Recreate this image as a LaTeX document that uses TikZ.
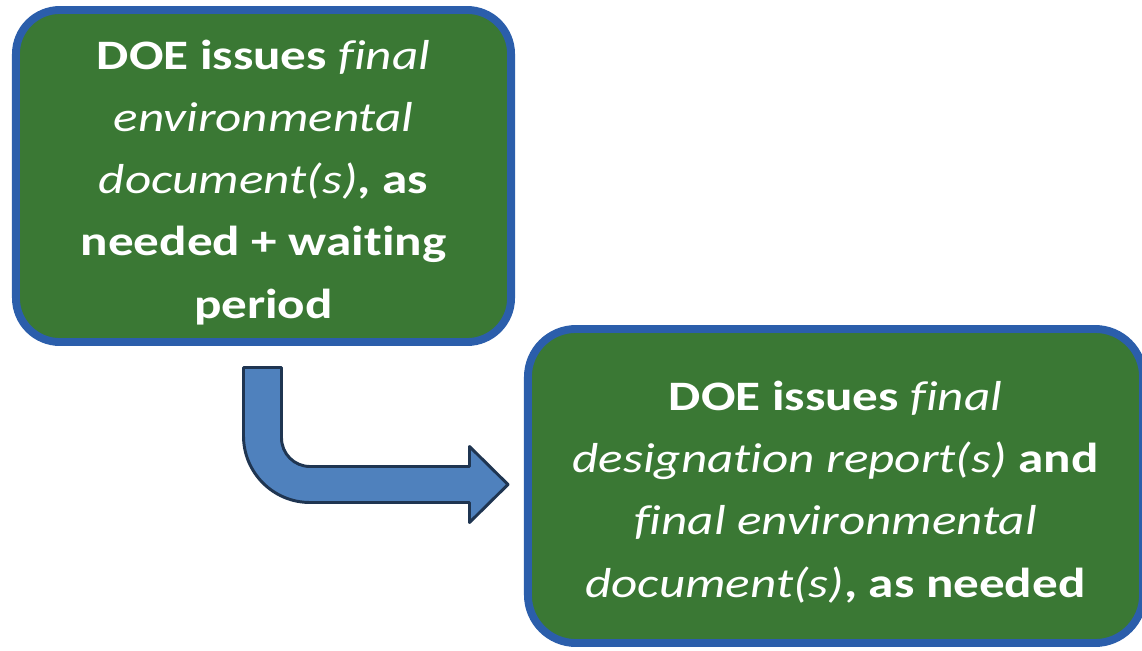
\documentclass[tikz,border=0pt]{standalone}
\usepackage{fontspec}
\setmainfont{Carlito}[Ligatures=NoCommon]
\usetikzlibrary{shadows}

\definecolor{boxgreen}{HTML}{3A7834}
\definecolor{boxblue}{HTML}{2B5EAB}
\definecolor{arrowfill}{HTML}{4F81BD}
\definecolor{arrowline}{HTML}{1F3551}

% wide white text, several centred lines
\newcommand{\boxtext}[1]{\raisebox{-0.13cm}[\height][\depth]{\scalebox{1.22}[1]{\begin{tabular}{@{}c@{}}#1\end{tabular}}}}

\tikzset{
	stepbox/.style={draw=boxblue, line width=5.6pt, fill=boxgreen, text=white,
		align=center, inner sep=0pt, font=\fontsize{29.8}{44.3}\selectfont,
		drop shadow={opacity=0.2, shadow xshift=0pt, shadow yshift=-2pt}},
}

\begin{document}
\begin{tikzpicture}[x=0.025cm, y=-0.025cm]
			\useasboundingbox (0,0) rectangle (1142,650);
			% first step
			\node[stepbox, minimum width=12.375cm, minimum height=8.3cm, rounded corners=1.1cm] (env) at (263.5,176)
				{\boxtext{\textbf{DOE issues} \textit{final}\\ \textit{environmental}\\ \textit{document(s)}\textbf{, as}\\ \textbf{needed + waiting}\\ \textbf{period}}};
			% second step
			\node[stepbox, minimum width=15.375cm, minimum height=7.85cm, rounded corners=1.2cm] (rep) at (835.5,486)
				{\boxtext{\textbf{DOE issues} \textit{final}\\ \textit{designation report(s)} \textbf{and}\\ \textit{final environmental}\\ \textit{document(s)}\textbf{, as needed}}};
			% bent arrow
			\draw[line width=2.1pt, draw=arrowline, fill=arrowfill, line join=round]
				(243.5,367.5) -- (281.5,367.5) -- (281.5,438) arc[start angle=180, end angle=90, radius=28.5]
				-- (469.5,466.5) -- (469.5,446.5) -- (508,484.5) -- (469.5,522.5) -- (469.5,502.5)
				-- (310,502.5) arc[start angle=90, end angle=180, radius=66.5] -- cycle;
\end{tikzpicture}
\end{document}
